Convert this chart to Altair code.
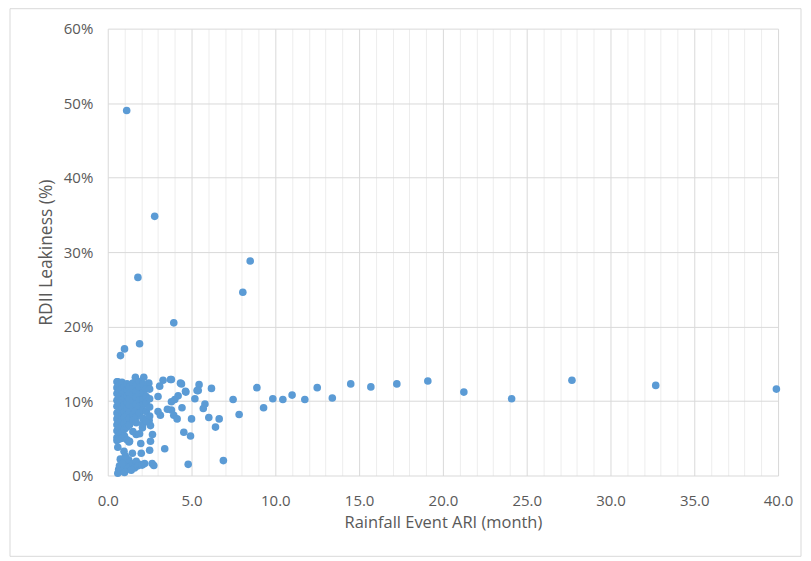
import altair as alt
import pandas as pd

# Rainfall event ARI (months) and RDII leakiness (%)
ari = [
    # outliers
    1.13, 2.8, 1.8, 8.06, 8.5, 3.94, 1.9, 1.0, 0.76,
    # right tail
    7.48, 7.84, 8.9, 9.3, 9.85, 10.45, 11.0, 11.76, 12.5, 13.4, 14.5, 15.7, 17.25,
    19.1, 21.25, 24.1, 27.7, 32.7, 39.9,
    # mid area
    3.8, 4.4, 5.45, 5.4, 4.66, 6.19, 5.2, 4.2, 4.0, 3.8, 5.8, 5.7, 4.43, 3.8, 3.94,
    4.14, 5.0, 6.03, 6.65, 6.43, 4.54, 4.94, 4.8, 6.9,
    1.65, 2.15, 2.45, 0.6, 3.3, 3.74, 4.34, 3.1, 4.64, 5.33, 3.0, 3.56, 3.0, 3.14,
    2.47, 2.55, 2.07, 1.7, 2.67, 1.27, 1.97, 2.55, 3.4, 2.5, 0.97, 1.47, 2.0,
    2.65, 2.75,
    # dense block
    0.55, 0.55, 0.55, 0.55, 0.55, 0.55, 0.55, 0.55, 0.55, 0.55, 0.55,
    0.7, 0.7, 0.7, 0.7, 0.7, 0.7, 0.7, 0.7, 0.7, 0.7,
    0.85, 0.85, 0.85, 0.85, 0.85, 0.85, 0.85, 0.85, 0.85, 0.85,
    1.0, 1.0, 1.0, 1.0, 1.0, 1.0, 1.0, 1.0, 1.0,
    1.15, 1.15, 1.15, 1.15, 1.15, 1.15, 1.15, 1.15, 1.15,
    1.3, 1.3, 1.3, 1.3, 1.3, 1.3, 1.3, 1.3,
    1.5, 1.5, 1.5, 1.5, 1.5, 1.5, 1.5, 1.5,
    1.7, 1.7, 1.7, 1.7, 1.7, 1.7, 1.7,
    1.9, 1.9, 1.9, 1.9, 1.9, 1.9, 1.9,
    2.1, 2.1, 2.1, 2.1, 2.1, 2.1, 2.1,
    2.3, 2.3, 2.3, 2.3, 2.3,
    2.5, 2.5, 2.5, 2.5,
    # bottom cluster
    0.6, 0.65, 0.7, 0.8, 0.9, 0.95, 1.0, 1.1, 1.2, 1.25, 1.35, 1.5, 1.6, 1.7,
    1.8, 1.9, 2.05, 2.2, 0.75, 1.05, 0.85, 1.4, 0.6,
]
leak = [
    49.0, 34.8, 26.6, 24.6, 28.8, 20.5, 17.7, 17.0, 16.1,
    10.2, 8.2, 11.8, 9.1, 10.3, 10.2, 10.8, 10.2, 11.8, 10.4, 12.3, 11.9, 12.3,
    12.7, 11.2, 10.3, 12.8, 12.1, 11.6,
    12.9, 12.3, 12.2, 11.4, 11.2, 11.7, 10.3, 10.7, 10.2, 9.9, 9.6, 9.0, 9.1, 8.8, 8.1,
    7.6, 7.6, 7.8, 7.6, 6.5, 5.8, 5.3, 1.5, 2.0,
    13.2, 13.2, 12.4, 12.6, 12.8, 12.9, 12.4, 12.0, 11.3, 11.4, 10.6, 8.9, 8.6, 8.1,
    7.4, 6.7, 6.4, 5.5, 5.5, 4.5, 4.3, 4.6, 3.6, 3.4, 3.25, 3.0, 3.0,
    1.6, 1.35,
    12.6, 11.8, 11.0, 10.1, 9.3, 8.4, 7.6, 6.8, 6.0, 5.1, 4.7,
    12.2, 11.4, 10.6, 9.7, 8.8, 8.0, 7.2, 6.4, 5.5, 4.9,
    12.5, 11.7, 10.9, 10.2, 9.1, 8.3, 7.5, 6.6, 5.8, 5.0,
    12.0, 11.2, 10.4, 9.5, 8.6, 7.8, 7.0, 6.2, 5.3,
    12.3, 11.5, 10.7, 9.9, 9.0, 8.1, 7.3, 6.5, 4.8,
    11.9, 11.0, 10.3, 9.4, 8.5, 7.7, 6.8, 4.6,
    12.4, 11.6, 10.8, 10.0, 9.2, 8.2, 7.4, 5.9,
    12.1, 11.3, 10.5, 9.6, 8.7, 7.9, 7.1,
    12.6, 11.8, 10.9, 10.1, 9.3, 8.4, 5.6,
    12.3, 11.1, 10.2, 9.5, 8.8, 7.7, 6.9,
    11.6, 10.6, 9.8, 8.6, 7.3,
    11.6, 10.3, 9.2, 8.0,
    0.3, 0.8, 1.3, 0.6, 1.0, 1.8, 0.4, 1.4, 0.9, 2.1, 1.2, 1.6, 1.0, 1.9,
    1.3, 1.5, 1.4, 1.6, 2.2, 2.6, 1.6, 0.7, 3.8,
]

x_ticks = list(range(0, 41))
y_ticks = [0, 10, 20, 30, 40, 50, 60]

df = pd.DataFrame({"ari": ari, "leak": leak})

FONT = "Open Sans"
TXT = "#595959"

points = alt.Chart(df).mark_circle(size=58, color="#5B9BD5", opacity=1).encode(
    x=alt.X(
        "ari:Q",
        scale=alt.Scale(domain=[0, 40], nice=False, zero=True),
        axis=alt.Axis(
            values=x_ticks,
            labelExpr="datum.value % 5 === 0 ? format(datum.value, '.1f') : ''",
            title="Rainfall Event ARI (month)",
            titleFontSize=16.5,
            grid=True,
            gridColor={"condition": {"test": "datum.value % 5 === 0", "value": "#d9d9d9"},
                       "value": "#ededed"},
            gridWidth=1,
            domain=False,
            ticks=False,
            labelFlush=False,
            labelOverlap=False,
            labelPadding=18,
            titlePadding=6,
        ),
    ),
    y=alt.Y(
        "leak:Q",
        scale=alt.Scale(domain=[0, 60], nice=False),
        axis=alt.Axis(
            values=y_ticks,
            labelExpr="datum.value + '%'",
            title="RDII Leakiness  (%)",
            titleFontSize=17.5,
            grid=True,
            gridColor="#d9d9d9",
            domain=False,
            ticks=False,
            labelFlush=False,
            labelPadding=15,
            titlePadding=8,
        ),
    ),
)

border = alt.Chart(pd.DataFrame({"k": [0]})).mark_rect(
    fill=None, stroke="#d9d9d9", strokeWidth=1, clip=False
).encode(
    x=alt.value(-98), x2=alt.value(695), y=alt.value(-20), y2=alt.value(529)
)

chart = alt.layer(border, points).properties(
    width=672,
    height=448,
    autosize=alt.AutoSizeParams(type="none"),
    padding={"left": 100, "top": 20, "right": 25, "bottom": 85},
).configure_view(stroke=None).configure_axis(
    labelFont=FONT, titleFont=FONT, labelColor=TXT, titleColor=TXT,
    labelFontSize=15, titleFontWeight="normal",
)

chart.save("out.html", embed_options={"renderer": "svg", "actions": False})
